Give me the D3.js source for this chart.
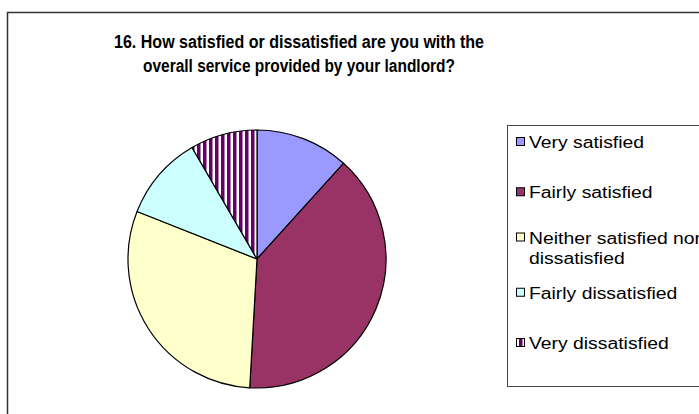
<!DOCTYPE html>
<html>
<head>
<meta charset="utf-8">
<script src="https://cdn.jsdelivr.net/npm/d3@7"></script>
<style>
    html, body { margin: 0; padding: 0; background: #fff; }
    svg { display: block; font-family: "Liberation Sans", Arial, sans-serif; }
</style>
</head>
<body>
<div id="chart"></div>
<script>
const TITLE_LINES = [
    '16. How satisfied or dissatisfied are you with the',
    'overall service provided by your landlord?'
];
const CATEGORIES = ['Very satisfied', 'Fairly satisfied', 'Neither satisfied nor dissatisfied', 'Fairly dissatisfied', 'Very dissatisfied'];
const VALUES = [11.7, 39.2, 30.1, 10.6, 8.4];
const LEGEND_LINES = [['Very satisfied'], ['Fairly satisfied'], ['Neither satisfied nor', 'dissatisfied'], ['Fairly dissatisfied'], ['Very dissatisfied']];
const FILLS = ['#9999ff', '#993366', '#ffffcc', '#ccffff', 'url(#stripes)'];

const CONFIG = {
    WIDTH: 699,
    HEIGHT: 414,
    CX: 257,
    CY: 259,
    R: 129,
    LEGEND_X: 507,
    LEGEND_Y: 125,
    LEGEND_H: 261
};

class PieChart {
    constructor(parent) {
        this.ROOT = d3.select(parent).append('svg')
            .attr('width', CONFIG.WIDTH)
            .attr('height', CONFIG.HEIGHT);

        this.data = CATEGORIES.map((c, i) => ({ name: c, value: VALUES[i], fill: FILLS[i], lines: LEGEND_LINES[i] }));
    }

    draw() {
        this.defs();

        // chart area border, runs off the right and bottom edges
        this.ROOT.append('rect')
            .attr('x', 7.5).attr('y', 12.5)
            .attr('width', CONFIG.WIDTH + 20).attr('height', CONFIG.HEIGHT + 20)
            .attr('fill', '#fff')
            .attr('stroke', '#333')
            .attr('stroke-width', 1.5);

        this.drawTitle();
        this.drawPie();
        this.drawLegend();
    }

    defs() {
        const pat = this.ROOT.append('defs').append('pattern')
            .attr('id', 'stripes')
            .attr('patternUnits', 'userSpaceOnUse')
            .attr('width', 6).attr('height', 6);
        pat.append('rect').attr('width', 6).attr('height', 6).attr('fill', '#fff');
        pat.append('rect').attr('width', 3.5).attr('height', 6).attr('fill', '#660066');
    }

    drawTitle() {
        const widths = [370, 312];
        this.ROOT.append('g')
            .selectAll('text')
            .data(TITLE_LINES)
            .join('text')
            .attr('x', 299)
            .attr('y', (d, i) => 48 + i * 24)
            .attr('text-anchor', 'middle')
            .attr('font-size', 18)
            .attr('font-weight', 'bold')
            .attr('textLength', (d, i) => widths[i])
            .attr('lengthAdjust', 'spacingAndGlyphs')
            .text(d => d);
    }

    drawPie() {
        const pie = d3.pie().sort(null).value(d => d.value);
        const arc = d3.arc().innerRadius(0).outerRadius(CONFIG.R);

        this.ROOT.append('g')
            .attr('transform', `translate(${CONFIG.CX},${CONFIG.CY})`)
            .selectAll('path')
            .data(pie(this.data))
            .join('path')
            .attr('d', arc)
            .attr('fill', d => d.data.fill)
            .attr('stroke', '#000')
            .attr('stroke-width', 1.2)
            .attr('stroke-linejoin', 'round');
    }

    drawLegend() {
        const g = this.ROOT.append('g');
        g.append('rect')
            .attr('x', CONFIG.LEGEND_X + 0.5).attr('y', CONFIG.LEGEND_Y + 0.5)
            .attr('width', 260).attr('height', CONFIG.LEGEND_H)
            .attr('fill', '#fff')
            .attr('stroke', '#444')
            .attr('stroke-width', 1);

        const y = d3.scalePoint()
            .domain(CATEGORIES)
            .range([142, 343]);
        // the two-line item sits a little higher than its slot
        const shift = [0, 0, -5, 0, 0];

        const items = g.selectAll('g.item')
            .data(this.data)
            .join('g')
            .attr('class', 'item')
            .attr('transform', (d, i) => `translate(${CONFIG.LEGEND_X},${y(d.name) + shift[i]})`);

        items.append('rect')
            .attr('x', 9.5).attr('y', -4.5)
            .attr('width', 8).attr('height', 8)
            .attr('fill', d => d.fill)
            .attr('stroke', '#000')
            .attr('stroke-width', 1);

        const texts = items.selectAll('text')
            .data(d => d.lines)
            .join('text')
            .attr('x', 22)
            .attr('y', (d, j) => 6 + j * 20)
            .attr('font-size', 16)
            .attr('fill', '#000')
            .text(d => d);

        // legend glyphs are drawn wider than the font; stretch so the longest line runs to the edge
        const longest = texts.filter(d => d === 'Neither satisfied nor').node().getComputedTextLength();
        const k = 172 / longest;
        texts.each(function () {
            const w = this.getComputedTextLength();
            d3.select(this)
                .attr('textLength', w * k)
                .attr('lengthAdjust', 'spacingAndGlyphs');
        });
    }
}

const chart = new PieChart(document.getElementById('chart'));
chart.draw();
</script>
</body>
</html>
